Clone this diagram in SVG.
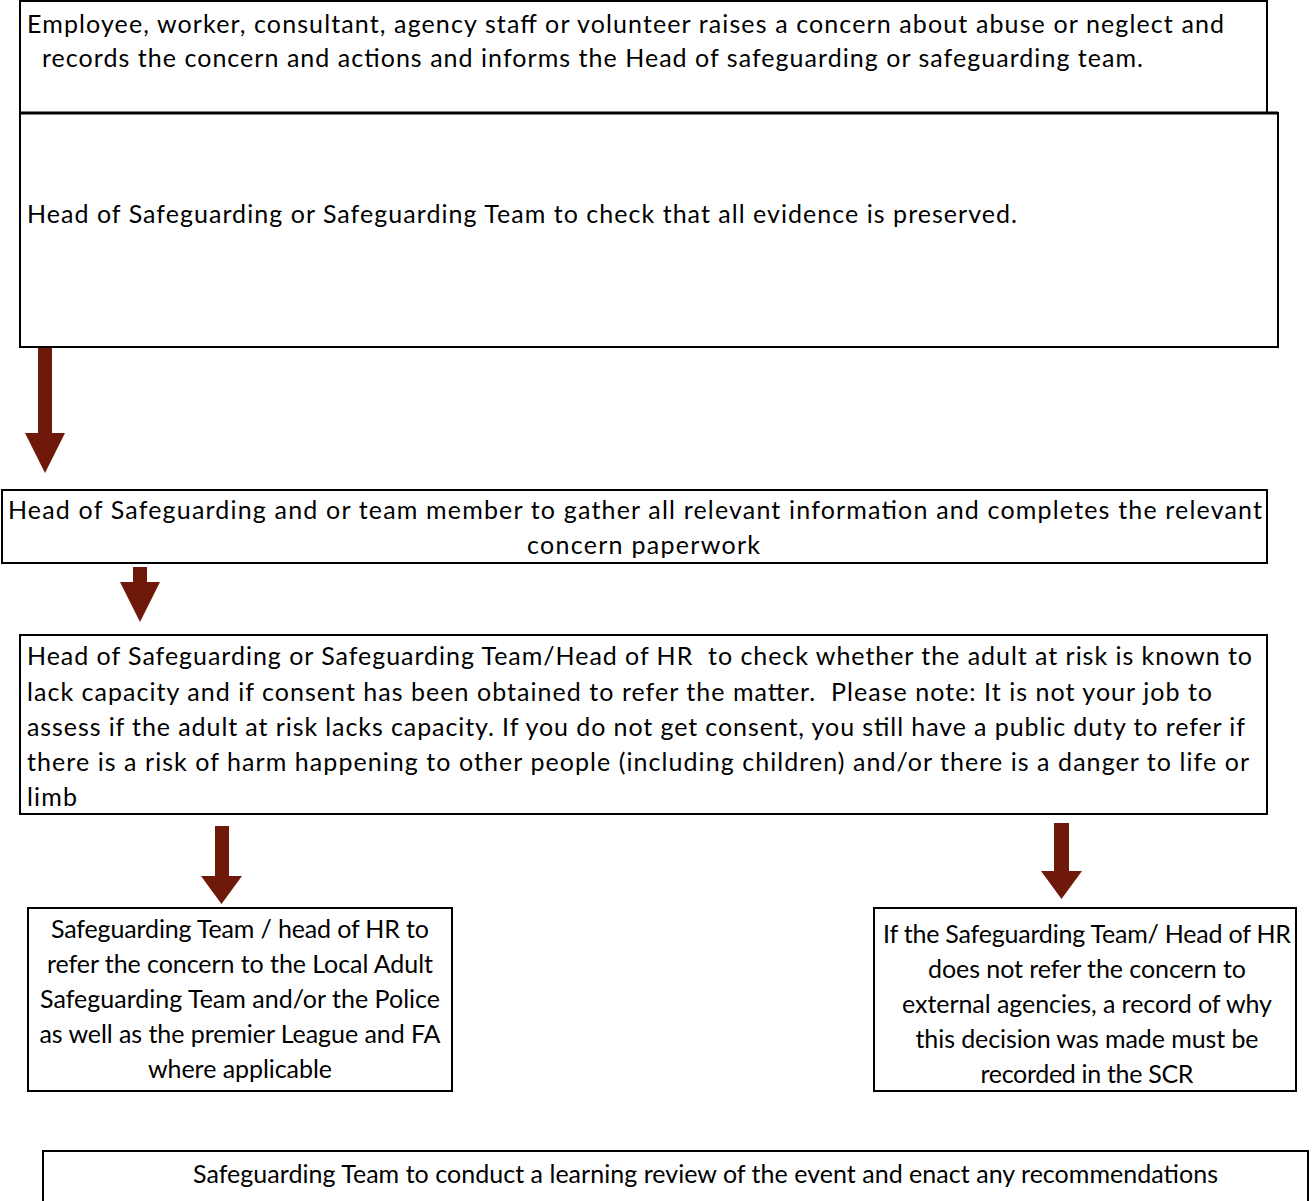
<svg xmlns="http://www.w3.org/2000/svg" width="1313" height="1201" viewBox="0 0 1313 1201">
<style>
.box{fill:#fff;stroke:#000;stroke-width:2}
.t{font-family:Lato,"Open Sans","Liberation Sans",sans-serif;font-size:25px;fill:#000}
.c{text-anchor:middle}
.arr{fill:#6f190b}
</style>
<rect width="1313" height="1201" fill="#fff"/>
<g id="n1">
<rect class="box" x="20" y="1" width="1247" height="112"/>
<text class="t" x="27" y="33" textLength="1197">Employee, worker, consultant, agency staff or volunteer raises a concern about abuse or neglect and</text>
<text class="t" x="42" y="67" textLength="1101">records the concern and actions and informs the Head of safeguarding or safeguarding team.</text>
</g>
<g id="n2">
<rect class="box" x="20" y="113" width="1258" height="234"/>
<line x1="20" y1="113" x2="1278" y2="113" stroke="#000" stroke-width="3"/>
<text class="t" x="27" y="223" textLength="990">Head of Safeguarding or Safeguarding Team to check that all evidence is preserved.</text>
</g>
<g id="n3">
<rect class="box" x="2" y="490" width="1265" height="73"/>
<text class="t" x="8" y="519" textLength="1254">Head of Safeguarding and or team member to gather all relevant information and completes the relevant</text>
<text class="t" x="527" y="554" textLength="233">concern paperwork</text>
</g>
<g id="n4">
<rect class="box" x="20" y="635" width="1247" height="179"/>
<text class="t" x="27" y="665" textLength="1225" xml:space="preserve">Head of Safeguarding or Safeguarding Team/Head of HR  to check whether the adult at risk is known to</text>
<text class="t" x="27" y="701" textLength="1185" xml:space="preserve">lack capacity and if consent has been obtained to refer the matter.  Please note: It is not your job to</text>
<text class="t" x="27" y="736" textLength="1218">assess if the adult at risk lacks capacity. If you do not get consent, you still have a public duty to refer if</text>
<text class="t" x="27" y="771" textLength="1222">there is a risk of harm happening to other people (including children) and/or there is a danger to life or</text>
<text class="t" x="27" y="806" textLength="50">limb</text>
</g>
<g id="n5">
<rect class="box" x="28" y="908" width="424" height="183"/>
<text class="t c" x="240" y="938" textLength="378">Safeguarding Team / head of HR to</text>
<text class="t c" x="240" y="973" textLength="386">refer the concern to the Local Adult</text>
<text class="t c" x="240" y="1008" textLength="400">Safeguarding Team and/or the Police</text>
<text class="t c" x="240" y="1043" textLength="401">as well as the premier League and FA</text>
<text class="t c" x="240" y="1078" textLength="184">where applicable</text>
</g>
<g id="n6">
<rect class="box" x="874" y="908" width="422" height="183"/>
<text class="t c" x="1087" y="943" textLength="408">If the Safeguarding Team/ Head of HR</text>
<text class="t c" x="1087" y="978" textLength="318">does not refer the concern to</text>
<text class="t c" x="1087" y="1013" textLength="370">external agencies, a record of why</text>
<text class="t c" x="1087" y="1048" textLength="343">this decision was made must be</text>
<text class="t c" x="1087" y="1083" textLength="213">recorded in the SCR</text>
</g>
<g id="n7">
<rect class="box" x="43" y="1151" width="1265" height="80"/>
<text class="t" x="193" y="1183" textLength="1025">Safeguarding Team to conduct a learning review of the event and enact any recommendations</text>
</g>
<g id="connectors">
<polygon class="arr" points="38,348 52,348 52,433 65,433 45,473 25,433 38,433"/>
<polygon class="arr" points="133,567 147,567 147,582 160,582 140,622 120,582 133,582"/>
<polygon class="arr" points="215,826 229,826 229,876 242,876 221.5,904 201,876 215,876"/>
<polygon class="arr" points="1054,823 1069,823 1069,871 1082,871 1061.5,899 1041,871 1054,871"/>
</g>
</svg>
